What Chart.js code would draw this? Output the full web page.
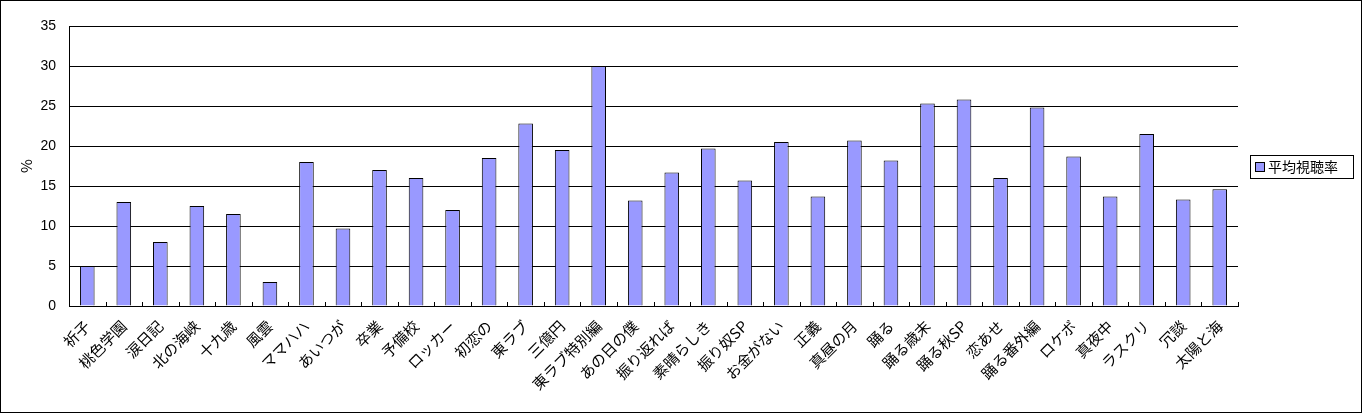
<!DOCTYPE html>
<html>
<head>
<meta charset="utf-8">
<script src="https://cdn.jsdelivr.net/npm/chart.js@4.4.0/dist/chart.umd.min.js"></script>
<style>
  body { margin: 0; background: #fff; }
  #wrap { width: 1362px; height: 413px; border: 1px solid #000; box-sizing: border-box; }
  canvas { display: block; }
</style>
</head>
<body>
<div id="wrap"><canvas id="c" width="1360" height="411"></canvas></div>
<script>
const categories = ['祈子', '桃色学園', '涙日記', '北の海峡', '十九歳', '風雲', 'ママハハ', 'あいつが',
  '卒業', '予備校', 'ロッカー', '初恋の', '東ラブ', '三億円', '東ラブ特別編', 'あの日の僕',
  '振り返れば', '素晴らしき', '振り奴SP', 'お金がない', '正義', '真昼の月', '踊る', '踊る歳末',
  '踊る秋SP', '恋あせ', '踊る番外編', 'ロケボ', '真夜中', 'ラスクリ', '冗談', '太陽と海'];
const ratings = [5, 13, 8, 12.5, 11.5, 3, 18, 9.7, 17, 16, 12, 18.5, 22.8, 19.5, 30, 13.2,
  16.7, 19.7, 15.7, 20.5, 13.7, 20.7, 18.2, 25.3, 25.8, 16, 24.8, 18.7, 13.7, 21.5, 13.3, 14.6];
const seriesName = '平均視聴率';
const yTicks = [0, 5, 10, 15, 20, 25, 30, 35];

const jpFont = '"Noto Sans CJK JP", "Noto Sans", sans-serif';

// small tick marks pointing into the plot at category borders
const innerTicks = {
  id: 'innerTicks',
  afterDatasetsDraw(chart) {
    const x = chart.scales.x, ctx = chart.ctx, bottom = chart.chartArea.bottom;
    ctx.save();
    ctx.strokeStyle = '#000';
    ctx.lineWidth = 1;
    for (let i = 0; i <= categories.length; i++) {
      const px = Math.round(x.left + (x.right - x.left) * i / categories.length) + 0.5;
      ctx.beginPath();
      ctx.moveTo(px, bottom);
      ctx.lineTo(px, bottom - 4);
      ctx.stroke();
    }
    ctx.restore();
  }
};

// boxed legend on the right, like the spreadsheet one
const boxLegend = {
  id: 'boxLegend',
  afterDraw(chart) {
    const ctx = chart.ctx;
    const ds = chart.data.datasets[0];
    ctx.save();
    ctx.strokeStyle = '#000';
    ctx.lineWidth = 1;
    ctx.strokeRect(1249.5, 154.5, 103, 23);
    ctx.fillStyle = ds.backgroundColor;
    ctx.fillRect(1254.5, 161.5, 9, 9);
    ctx.strokeRect(1254.5, 161.5, 9, 9);
    ctx.fillStyle = '#000';
    ctx.font = '14px ' + jpFont;
    ctx.textBaseline = 'middle';
    ctx.fillText(ds.label, 1267, 166);
    ctx.restore();
  }
};

new Chart(document.getElementById('c'), {
  type: 'bar',
  data: {
    labels: categories,
    datasets: [{
      label: seriesName,
      data: ratings,
      backgroundColor: '#9999FF',
      borderColor: '#000',
      borderWidth: 1,
      barPercentage: 0.4,
      categoryPercentage: 1
    }]
  },
  options: {
    responsive: false,
    animation: false,
    layout: { padding: { top: 25, right: 123, left: 0, bottom: 0 } },
    plugins: { legend: { display: false }, tooltip: { enabled: false } },
    scales: {
      x: {
        grid: { display: false },
        border: { color: '#000', width: 1 },
        ticks: {
          color: '#000',
          font: { family: jpFont, size: 15 },
          minRotation: 45,
          maxRotation: 45,
          autoSkip: false,
          padding: 3
        },
        afterFit(s) { s.height = 106; }
      },
      y: {
        min: 0,
        max: 35,
        afterBuildTicks(s) { s.ticks = yTicks.map(v => ({ value: v })); },
        grid: { color: '#000', lineWidth: 1, drawTicks: false },
        border: { color: '#000', width: 1 },
        ticks: {
          color: '#000',
          font: { family: 'Arial, "Liberation Sans", sans-serif', size: 14 },
          padding: 13
        },
        title: {
          display: true,
          text: '%',
          color: '#000',
          font: { family: jpFont, size: 15 },
          padding: { top: 16, bottom: 0 }
        },
        afterFit(s) { s.width = 68; }
      }
    }
  },
  plugins: [innerTicks, boxLegend]
});
</script>
</body>
</html>
